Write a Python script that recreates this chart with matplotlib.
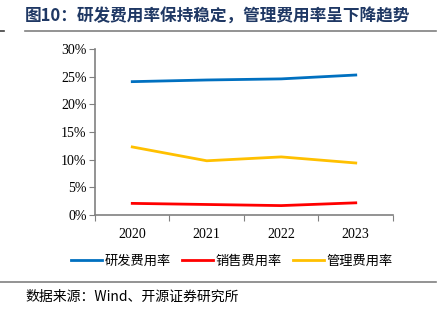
import matplotlib
matplotlib.use("Agg")
import matplotlib.pyplot as plt
from matplotlib.lines import Line2D

years = ["2020", "2021", "2022", "2023"]
rd_rate = [24.1, 24.4, 24.6, 25.3]
sales_rate = [2.1, 1.9, 1.7, 2.2]
admin_rate = [12.3, 9.8, 10.5, 9.4]
series_names = ["研发费用率", "销售费用率", "管理费用率"]
y_ticks = [0, 5, 10, 15, 20, 25, 30]

cjk = ["Noto Sans CJK SC", "DejaVu Sans"]
serif = ["Liberation Serif", "DejaVu Serif"]

fig = plt.figure(figsize=(4.39, 3.21), dpi=100)
ax = fig.add_axes([95 / 439, 1 - 215 / 321, 298 / 439, 166 / 321])

x = list(range(len(years)))
ax.plot(x, rd_rate, color="#0070C0", lw=2, label=series_names[0])
ax.plot(x, sales_rate, color="#FF0000", lw=2, label=series_names[1])
ax.plot(x, admin_rate, color="#FFC000", lw=2, label=series_names[2])

ax.set_xlim(-0.5, len(years) - 0.5)
ax.set_ylim(0, 30)
ax.set_yticks(y_ticks)
ax.set_yticklabels([f"{v}%" for v in y_ticks], family=serif, fontsize=10)
ax.set_xticks([i - 0.5 for i in range(len(years) + 1)])
ax.set_xticklabels([])
ax.set_xticks(x, minor=True)
ax.set_xticklabels(years, minor=True, family=serif, fontsize=10)
ax.tick_params(axis="x", which="major", length=4, direction="out", color="#808080")
ax.tick_params(axis="x", which="minor", length=0, pad=9)
ax.tick_params(axis="y", length=4, direction="out", color="#808080", pad=2)

for s in ["top", "right"]:
    ax.spines[s].set_visible(False)
for s in ["left", "bottom"]:
    ax.spines[s].set_color("#808080")
    ax.spines[s].set_linewidth(1.2)

handles = [Line2D([], [], color=c, lw=2) for c in ["#0070C0", "#FF0000", "#FFC000"]]
fig.legend(handles, series_names, loc="center", bbox_to_anchor=(232 / 439, 1 - 261 / 321),
           ncol=3, frameon=False, prop={"family": cjk, "size": 9.5},
           handlelength=2.3, handletextpad=0.2, columnspacing=0.9)

fig.text(25 / 439, 1 - 17 / 321, "图10：研发费用率保持稳定，管理费用率呈下降趋势",
         family=cjk, fontsize=12, fontweight="bold", color="#1F3864", va="center")
fig.add_artist(Line2D([25 / 439, 436 / 439], [1 - 31 / 321] * 2, color="#808080", lw=1.2))
fig.add_artist(Line2D([0, 4 / 439], [1 - 31 / 321] * 2, color="#404040", lw=1.2))
fig.add_artist(Line2D([0, 436 / 439], [1 - 282 / 321] * 2, color="#808080", lw=1.2))
fig.text(25 / 439, 1 - 297 / 321, "数据来源：Wind、开源证券研究所",
         family=cjk, fontsize=10, va="center")

fig.savefig("out.png", dpi=100)
